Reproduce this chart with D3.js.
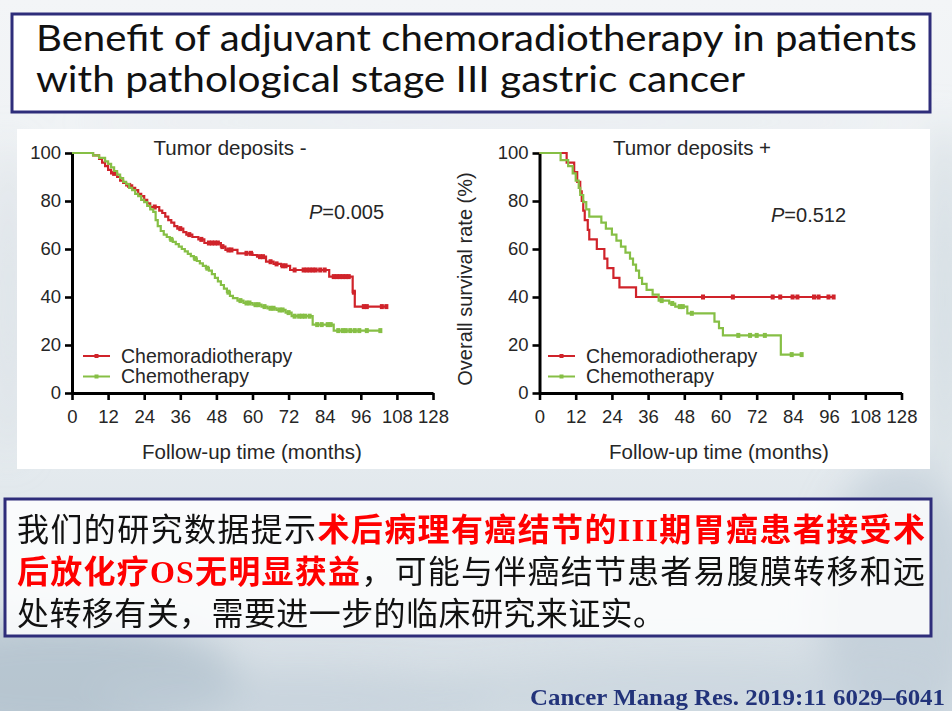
<!DOCTYPE html>
<html><head><meta charset="utf-8">
<script src="https://cdn.jsdelivr.net/npm/d3@7"></script>
<style>
html,body{margin:0;padding:0;background:#fff;}
svg{display:block;}
</style></head>
<body>
<svg id="c" width="952" height="711"></svg>
<script>
// ---------- data ----------
const xTickValues = [0,12,24,36,48,60,72,84,96,108,120];
const xTickLabels = ["0","12","24","36","48","60","72","84","96","108","128"];
const yTickValues = [0,20,40,60,80,100];
const seriesNames = ["Chemoradiotherapy","Chemotherapy"];
const panelTitles = ["Tumor deposits -","Tumor deposits +"];
const pValues = ["0.005","0.512"];

// Left panel (Tumor deposits -)
const leftCRTTimes = [0,7,9,10,11,12,13,15,16,17,18,20,21,22,23,24,25,26,29,30,31,32,33,34,35,37,38,40,42,44,49.5,51,55,60,61.5,64.5,67,69.5,72.5,85.5,93.3,94];
const leftCRTSurv  = [100,99,97.5,96,94.5,93,91.5,90,88.5,87.5,86.5,85.5,84.5,83,82,80.5,79,77.5,76,75,73.5,72,71,69.5,68.5,67,66,65,64,62.5,61,59.6,58.2,57.5,56.8,54.7,53.8,53,51.25,48.5,42,36];
const leftCRTCensor = [14,19,27.5,36,39,43,45.5,46.5,47.5,48.5,50,52,53,58,59.5,62.5,63.5,66,68,70,71,74,77,78,79,80,81,82.5,84,87,88,89,90,91,92,93.7,97,98,103,104.5];

const leftCTTimes = [0,7,9,11,12,13,14,15,16,17,18,19,20,21,22,23,24,25,26,27,27.8,28.5,29.5,30.5,31.5,32.5,33.5,34.5,35.5,36.5,37.5,38.5,39.5,40.5,41.5,42.5,43.5,44.5,45.5,46.5,47.5,48.5,49.5,50.5,51.5,52.5,53.5,55,57,60,63,65,68,71,73,80,87];
const leftCTSurv  = [100,99,98,96.5,95.5,94,92.5,91,89.5,88,87,85.5,84.5,83,82,80.5,79.5,78,76.5,75.5,72,69.5,67.5,66,65,64,63,62,61,60,59,58,57,56,55,54,53,52,51,49.5,48,46.5,45,43.5,42,40.5,39.5,38.5,37.5,36.8,36,35.3,34.6,33.5,32,28.5,26];
const leftCTCensor = [33,41,45,52,56,58,59,61,62,64,66,67,69,70,72,74,75.5,76.5,77.5,79,81.5,83,85,86,88.5,90,91,92.5,94,95.5,98,102.5];

// Right panel (Tumor deposits +)
const rightCRTTimes = [0,9,11.5,12.5,13.5,14,14.5,15,16,16.5,19,21.5,22.5,24.5,26.5,32];
const rightCRTSurv  = [100,96,92,88,84,80,76,72,68,64,60,56,52,48,44,40];
const rightCRTCensor = [54.2,64.1,77.3,79.8,83.9,85.5,91,92.5,95.8,97.5];

const rightCTTimes = [0,7,9.5,11,12,13,13.5,14.5,15.5,16.5,20.5,22,24,25.5,27,28.5,30,31,32,33,34,35.5,37.5,39.5,43,45,49,58,59.5,60.8,80];
const rightCTSurv  = [100,97,94.5,91.5,88.5,85.5,82.5,79.5,76.5,73.5,71,68.5,66,63.5,61,58.5,56,53.5,51,48,45.5,43,41,38.5,37.3,36,33.2,29.7,27,24,16];
const rightCTCensor = [40.5,44,46.5,47.5,50.5,65.9,69.8,72,74.7,83.6,86.9];

const seriesColors = ["#d0232a","#86bf45"];

// ---------- drawing ----------
const svg = d3.select("#c");
const defs = svg.append("defs");

// background
const bg = defs.append("linearGradient").attr("id","bgG").attr("x1",0).attr("y1",0).attr("x2",0).attr("y2",1);
bg.append("stop").attr("offset","0%").attr("stop-color","#f3f5f7");
bg.append("stop").attr("offset","55%").attr("stop-color","#e9eef1");
bg.append("stop").attr("offset","100%").attr("stop-color","#d4dde4");
svg.append("rect").attr("width",952).attr("height",711).attr("fill","url(#bgG)");
defs.append("filter").attr("id","blurF").attr("x","-50%").attr("y","-50%").attr("width","200%").attr("height","200%")
  .append("feGaussianBlur").attr("stdDeviation",18);
const blobs = [
  {cx:60,cy:680,rx:180,ry:60,c:"#a9bac7",o:0.7},
  {cx:300,cy:700,rx:200,ry:30,c:"#c2cfd9",o:0.6},
  {cx:900,cy:600,rx:80,ry:140,c:"#b9c7d2",o:0.6},
  {cx:945,cy:300,rx:20,ry:180,c:"#c9d4dc",o:0.7},
  {cx:8,cy:300,rx:14,ry:160,c:"#d3dbe1",o:0.8},
  {cx:700,cy:690,rx:260,ry:30,c:"#c6d2dc",o:0.5},
  {cx:500,cy:122,rx:420,ry:8,c:"#dce3e9",o:0.6}
];
svg.append("g").attr("filter","url(#blurF)").selectAll("ellipse").data(blobs).join("ellipse")
  .attr("cx",d=>d.cx).attr("cy",d=>d.cy).attr("rx",d=>d.rx).attr("ry",d=>d.ry)
  .attr("fill",d=>d.c).attr("opacity",d=>d.o);

// title box
svg.append("rect").attr("x",12).attr("y",14).attr("width",918).attr("height",98)
  .attr("fill","#fff").attr("stroke","#2e2d7a").attr("stroke-width",3);
const titleLines = ["Benefit of adjuvant chemoradiotherapy in patients","with pathological stage III gastric cancer"];
const titleW = [881,709];
svg.selectAll("text.title").data(titleLines).join("text").attr("class","title")
  .attr("x",36).attr("y",(d,i)=>51+i*41)
  .attr("font-family","Lato, 'Open Sans', sans-serif").attr("font-size",36).attr("fill","#111")
  .attr("textLength",(d,i)=>titleW[i]).attr("lengthAdjust","spacingAndGlyphs")
  .text(d=>d);

// chart panel
svg.append("rect").attr("x",17).attr("y",129).attr("width",913).attr("height",340).attr("fill","#fff");

const FONT = "'Liberation Sans', Arial, sans-serif";
const TXT = "#262626";

function panel(cfg){
  const x = d3.scaleLinear().domain([0,120]).range(cfg.xr);
  const y = d3.scaleLinear().domain([0,100]).range([393,153]);
  const g = svg.append("g");

  const ax = g.append("g").attr("transform",`translate(0,${y(0)})`)
    .call(d3.axisBottom(x).tickValues(xTickValues).tickFormat((d,i)=>xTickLabels[i]).tickSize(7).tickSizeOuter(0).tickPadding(9));
  const ay = g.append("g").attr("transform",`translate(${x(0)},0)`)
    .call(d3.axisLeft(y).tickValues(yTickValues).tickSize(7).tickSizeOuter(0).tickPadding(4));
  [ax,ay].forEach(a=>{
    a.select(".domain").attr("stroke","#000").attr("stroke-width",3);
    a.selectAll(".tick line").attr("stroke","#000").attr("stroke-width",2.6);
    a.selectAll(".tick text").attr("font-family",FONT).attr("font-size",18.5).attr("fill",TXT);
  });
  ax.selectAll(".tick text").attr("dy","0.75em");

  const series = cfg.series;
  const line = d3.line().x(d=>x(d[0])).y(d=>y(d[1])).curve(d3.curveStepAfter);
  series.forEach((s,k)=>{
    const pts = s.t.map((t,i)=>[t,s.s[i]]);
    const tEnd = d3.max(s.c);
    pts.push([tEnd, s.s[s.s.length-1]]);
    g.append("path").attr("d",line(pts)).attr("fill","none")
      .attr("stroke",seriesColors[k]).attr("stroke-width",2.2);
    const surv = t => { let v=100; s.t.forEach((tt,i)=>{ if(tt<=t) v=s.s[i]; }); return v; };
    g.selectAll(null).data(s.c).join("rect")
      .attr("x",d=>x(d)-2).attr("y",d=>y(surv(d))-2.5).attr("width",4).attr("height",5)
      .attr("fill",seriesColors[k]);
  });

  // panel title
  g.append("text").attr("x",cfg.titleX).attr("y",155).attr("text-anchor","middle")
    .attr("font-family",FONT).attr("font-size",20.5).attr("fill",TXT).text(cfg.title);
  // p value
  const pt = g.append("text").attr("x",cfg.pX).attr("y",cfg.pY)
    .attr("font-family",FONT).attr("font-size",20).attr("fill",TXT);
  pt.append("tspan").attr("font-style","italic").text("P");
  pt.append("tspan").text("="+cfg.p);

  // legend
  series.forEach((s,k)=>{
    const ly = 356 + k*20.5;
    g.append("line").attr("x1",cfg.legX).attr("x2",cfg.legX+27).attr("y1",ly).attr("y2",ly)
      .attr("stroke",seriesColors[k]).attr("stroke-width",2);
    g.append("rect").attr("x",cfg.legX+11.5).attr("y",ly-2).attr("width",4).attr("height",4).attr("fill",seriesColors[k]);
    g.append("text").attr("x",cfg.legX+38).attr("y",ly+6.5)
      .attr("font-family",FONT).attr("font-size",19.5).attr("fill",TXT).text(seriesNames[k]);
  });

  // x axis title
  g.append("text").attr("x",cfg.xtX).attr("y",459).attr("text-anchor","middle")
    .attr("font-family",FONT).attr("font-size",20.5).attr("fill",TXT).text("Follow-up time (months)");
  if(cfg.ylab){
    g.append("text").attr("transform",`translate(465,279) rotate(-90)`).attr("text-anchor","middle")
      .attr("dominant-baseline","central")
      .attr("font-family",FONT).attr("font-size",20).attr("fill",TXT).text(cfg.ylab);
  }
}

panel({xr:[72,433], title:panelTitles[0], titleX:230, pX:309, pY:219, p:pValues[0], legX:83, xtX:252,
  series:[{t:leftCRTTimes,s:leftCRTSurv,c:leftCRTCensor},{t:leftCTTimes,s:leftCTSurv,c:leftCTCensor}]});
panel({xr:[539.5,901.5], title:panelTitles[1], titleX:692, pX:771, pY:222, p:pValues[1], legX:548, xtX:719,
  ylab:"Overall survival rate (%)",
  series:[{t:rightCRTTimes,s:rightCRTSurv,c:rightCRTCensor},{t:rightCTTimes,s:rightCTSurv,c:rightCTCensor}]});

// bottom text box
svg.append("rect").attr("x",5).attr("y",499).attr("width",926).attr("height",137)
  .attr("fill","#ffffff").attr("fill-opacity",0.82).attr("stroke","#2e2d7a").attr("stroke-width",3);

const CJK = "'Noto Sans CJK SC', sans-serif";
const SERIF = "'Liberation Serif', 'Times New Roman', serif";
const bodyLines = [
  [{t:"我们的研究数据提示",r:0},{t:"术后病理有癌结节的",r:1},{t:"III",r:2},{t:"期胃癌患者接受术",r:1}],
  [{t:"后放化疗",r:1},{t:"OS",r:2},{t:"无明显获益",r:1},{t:"，可能与伴癌结节患者易腹膜转移和远",r:0}],
  [{t:"处转移有关，需要进一步的临床研究来证实。",r:0}]
];
const bodyW = [908,908,648];
bodyLines.forEach((ln,i)=>{
  const t = svg.append("text").attr("x",17).attr("y",541+i*42)
    .attr("font-size",32).attr("font-family",CJK)
    .attr("textLength",bodyW[i]).attr("lengthAdjust","spacing");
  ln.forEach(p=>{
    t.append("tspan").text(p.t)
      .attr("fill",p.r?"#ff0000":"#111")
      .attr("font-weight",p.r?"bold":"normal")
      .attr("font-family",p.r===2?SERIF:CJK);
  });
});

// citation
svg.append("text").attr("x",530).attr("y",705)
  .attr("font-family",SERIF).attr("font-weight","bold").attr("font-size",24).attr("fill","#22337a")
  .attr("textLength",415).attr("lengthAdjust","spacingAndGlyphs")
  .text("Cancer Manag Res. 2019:11 6029–6041");
</script>
</body></html>
